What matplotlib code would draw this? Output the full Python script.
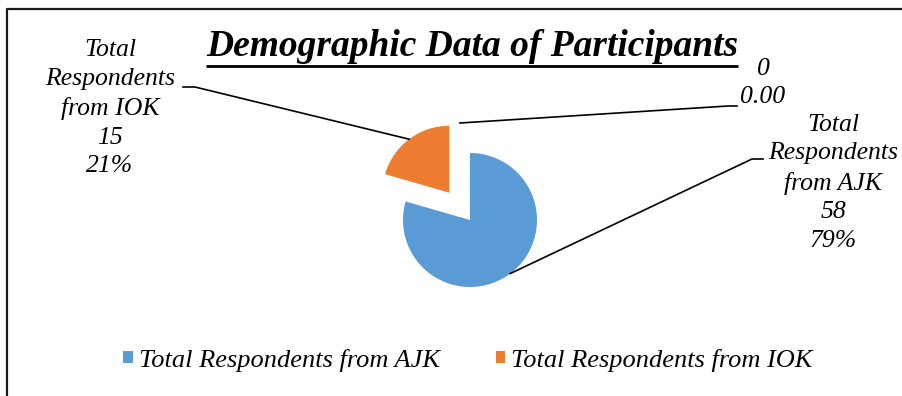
import math
import matplotlib
matplotlib.use("Agg")
import matplotlib.pyplot as plt

# Data
categories = ["Total Respondents from AJK", "Total Respondents from IOK", ""]
counts = [58, 15, 0]
colors = ["#5B9BD5", "#ED7D31", "#A5A5A5"]
explode = [0.0, 0.51, 0.0]

W, H = 903, 396
SERIF = ["Liberation Serif", "DejaVu Serif"]

fig = plt.figure(figsize=(W / 100, H / 100), dpi=100)
fig.patch.set_facecolor("white")

# Pie axes: centre at (470, 220) px from top-left, radius 67 px
PIE_CX, PIE_CY, PIE_R = 470, 220, 67
half = 2.0  # axes spans [-half, half] in data units
side = 2 * half * PIE_R
pax = fig.add_axes([(PIE_CX - side / 2) / W, (H - PIE_CY - side / 2) / H, side / W, side / H])
wedges, _ = pax.pie(counts, colors=colors, explode=explode, startangle=90,
                    counterclock=False, wedgeprops=dict(linewidth=0))
pax.set_xlim(-half, half)
pax.set_ylim(-half, half)
pax.set_aspect("equal")
pax.axis("off")

# Overlay axes in pixel coordinates (y downward)
ax = fig.add_axes([0, 0, 1, 1])
ax.set_xlim(0, W)
ax.set_ylim(H, 0)
ax.axis("off")
ax.patch.set_visible(False)

# Chart frame (top and left edges)
ax.plot([7, 7, W], [H, 9, 9], color="#1a1a1a", lw=1.6, solid_capstyle="butt")

total = sum(counts)


def mid_point(i, r_scale):
    start = 90.0 - 360.0 * sum(counts[:i]) / total
    end = start - 360.0 * counts[i] / total
    mid = math.radians((start + end) / 2)
    r = PIE_R * (1 + explode[i]) * r_scale if r_scale else PIE_R
    return PIE_CX + r * math.cos(mid), PIE_CY - r * math.sin(mid)


def label_for(i):
    pct = 100.0 * counts[i] / total
    if counts[i] == 0:
        return f"{counts[i]}\n{pct:.2f}"
    name = categories[i].replace("Total Respondents ", "Total\nRespondents\n")
    return f"{name}\n{counts[i]}\n{pct:.0f}%"


label_kw = dict(fontsize=18.5, style="italic", family=SERIF, ha="center",
                va="center", multialignment="center", linespacing=1.4)

# AJK label and leader
ax.text(833, 183, label_for(0), **label_kw)
ex, ey = mid_point(0, 0)
ax.plot([763, 752, ex], [159, 159, ey], color="black", lw=1.2)

# IOK label and leader
ax.text(110, 108, label_for(1), **label_kw)
ex, ey = mid_point(1, 1)
ax.plot([183, 195, ex], [87, 87, ey], color="black", lw=1.2)

# Zero-value label and leader
ax.text(763, 83, label_for(2), **label_kw)
ax.plot([737, 728, 460], [106, 106, 123], color="black", lw=1.2)

# Title with underline
title = ax.text(472, 47, "Demographic Data of Participants", fontsize=27,
                style="italic", weight="bold", family=SERIF, ha="center", va="center")
fig.canvas.draw()
bb = title.get_window_extent().transformed(ax.transData.inverted())
x0, x1 = sorted([bb.x0, bb.x1])
ax.plot([x0, x1], [66, 66], color="black", lw=2.0, solid_capstyle="butt")

# Legend
leg = ax.legend(wedges[:2], categories[:2], loc="center", bbox_to_anchor=(468 / W, 1 - 360 / H),
                ncol=2, frameon=False, handlelength=0.35, handleheight=0.35,
                handletextpad=0.25, columnspacing=2.1,
                prop=dict(family=SERIF, style="italic", size=19))

fig.savefig("out.png", dpi=100, facecolor="white")
